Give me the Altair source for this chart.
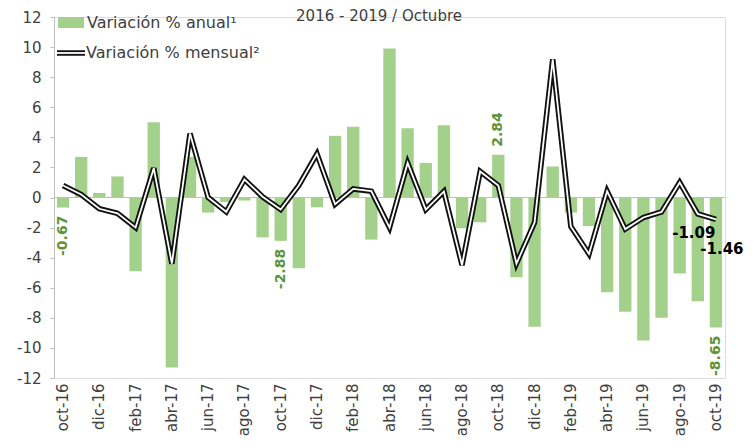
import altair as alt
import pandas as pd

months = ["oct-16", "nov-16", "dic-16", "ene-17", "feb-17", "mar-17", "abr-17", "may-17",
          "jun-17", "jul-17", "ago-17", "sep-17", "oct-17", "nov-17", "dic-17", "ene-18",
          "feb-18", "mar-18", "abr-18", "may-18", "jun-18", "jul-18", "ago-18", "sep-18",
          "oct-18", "nov-18", "dic-18", "ene-19", "feb-19", "mar-19", "abr-19", "may-19",
          "jun-19", "jul-19", "ago-19", "sep-19", "oct-19"]

anual = [-0.67, 2.7, 0.3, 1.4, -4.9, 5.0, -11.3, 2.7, -1.0, -0.3, -0.2, -2.65, -2.88,
         -4.7, -0.65, 4.1, 4.7, -2.8, 9.9, 4.6, 2.3, 4.8, -2.05, -1.65, 2.84, -5.3, -8.6,
         2.06, -1.0, -1.9, -6.3, -7.6, -9.5, -8.0, -5.05, -6.9, -8.65]

mensual = [0.8, 0.2, -0.75, -1.05, -2.0, 1.95, -4.4, 4.25, 0.0, -0.95, 1.2, 0.05, -0.8,
           0.8, 2.9, -0.45, 0.57, 0.42, -2.0, 2.3, -0.8, 0.4, -4.5, 1.73, 0.8, -4.4, -1.66,
           9.18, -1.93, -3.75, 0.42, -2.1, -1.33, -0.96, 1.0, -1.09, -1.46]

tick_labels = months[::2]
y_ticks = list(range(-12, 13, 2))

label_neg_months = ["oct-16", "oct-17", "oct-19"]
label_pos_months = ["oct-18"]

legend_items = ["Variación % anual\u00b9", "Variación % mensual\u00b2"]
title_text = "2016 - 2019 / Octubre"

FONT = "DejaVu Sans"
GREEN = "#a3d18c"
LABEL_GREEN = "#5e9438"

df = pd.DataFrame({"mes": months, "anual": anual, "mensual": mensual})
df["anual_lbl"] = df["anual"].map(lambda v: f"{v:.2f}")
df["mens_lbl"] = df["mensual"].map(lambda v: f"{v:.2f}")

xenc = alt.X("mes:N", sort=months, title=None,
             scale=alt.Scale(paddingInner=0.32, paddingOuter=0.16),
             axis=alt.Axis(values=tick_labels, labelAngle=-90, domain=False, ticks=False,
                           labelFont=FONT, labelFontSize=15, labelColor="#404040",
                           labelPadding=5, labelBaseline="middle", labelAlign="right"))
yscale = alt.Scale(domain=[-12, 12], nice=False)
yaxis = alt.Axis(values=y_ticks, grid=False, domainColor="#bfbfbf", tickColor="#bfbfbf",
                 tickSize=4, labelFont=FONT, labelFontSize=15, labelColor="#404040",
                 labelPadding=9, title=None, labelOverlap=False,
                 labelExpr="datum.value + ''")


def Y(field):
    return alt.Y(field, scale=yscale, axis=yaxis)


base = alt.Chart(df).encode(x=xenc)

bars = base.mark_bar(color=GREEN).encode(y=Y("anual:Q"))

zero = alt.Chart(df).mark_rule(color="#bfbfbf", strokeWidth=1.2).encode(
    y=alt.Y(datum=0, scale=yscale, axis=yaxis))

line_outer = base.mark_line(color="#111111", strokeWidth=5.5, strokeJoin="miter").encode(
    y=Y("mensual:Q"))
line_inner = base.mark_line(color="white", strokeWidth=1.8, strokeJoin="miter").encode(
    y=Y("mensual:Q"))

neg_lbl = base.transform_filter(alt.FieldOneOfPredicate(field="mes", oneOf=label_neg_months)).mark_text(
    angle=270, align="right", baseline="middle", dx=-8, font=FONT, fontSize=14,
    fontWeight="bold", color=LABEL_GREEN).encode(y=Y("anual:Q"), text="anual_lbl:N")

pos_lbl = base.transform_filter(alt.FieldOneOfPredicate(field="mes", oneOf=label_pos_months)).mark_text(
    angle=270, align="left", baseline="middle", dx=8, font=FONT, fontSize=14,
    fontWeight="bold", color=LABEL_GREEN).encode(y=Y("anual:Q"), text="anual_lbl:N")

sep_lbl = base.transform_filter(alt.datum.mes == "sep-19").mark_text(
    align="center", baseline="middle", dx=-4, dy=19, font=FONT, fontSize=15,
    fontWeight="bold", color="black").encode(y=Y("mensual:Q"), text="mens_lbl:N")

oct_lbl = base.transform_filter(alt.datum.mes == "oct-19").mark_text(
    align="center", baseline="middle", dx=6, dy=30, font=FONT, fontSize=15,
    fontWeight="bold", color="black").encode(y=Y("mensual:Q"), text="mens_lbl:N")

leg_df = pd.DataFrame({"item": legend_items})
leg_rect = alt.Chart(leg_df).transform_filter(alt.datum.item == legend_items[0]).mark_rect(
    color=GREEN).encode(x=alt.value(4), x2=alt.value(30), y=alt.value(0), y2=alt.value(11))
leg_line_o = alt.Chart(leg_df).transform_filter(alt.datum.item == legend_items[1]).mark_rule(
    color="#111111", strokeWidth=5.5).encode(x=alt.value(3), x2=alt.value(31), y=alt.value(36))
leg_line_i = alt.Chart(leg_df).transform_filter(alt.datum.item == legend_items[1]).mark_rule(
    color="white", strokeWidth=1.8).encode(x=alt.value(3), x2=alt.value(31), y=alt.value(36))
leg_t1 = alt.Chart(leg_df).transform_filter(alt.datum.item == legend_items[0]).mark_text(
    align="left", baseline="middle", font=FONT, fontSize=16, color="#404040").encode(
    x=alt.value(33), y=alt.value(6), text="item:N")
leg_t2 = alt.Chart(leg_df).transform_filter(alt.datum.item == legend_items[1]).mark_text(
    align="left", baseline="middle", font=FONT, fontSize=16, color="#404040").encode(
    x=alt.value(32), y=alt.value(36), text="item:N")

title_df = pd.DataFrame({"t": [title_text]})
title = alt.Chart(title_df).mark_text(
    align="center", baseline="middle", font=FONT, fontSize=15, color="#404040").encode(
    x=alt.value(325), y=alt.value(-1), text="t:N")

chart = alt.layer(bars, zero, line_outer, line_inner, neg_lbl, pos_lbl, sep_lbl, oct_lbl,
                  leg_rect, leg_line_o, leg_line_i, leg_t1, leg_t2, title).properties(
    width=671, height=361,
    autosize=alt.AutoSizeParams(type="none"),
    padding={"left": 46, "top": 9, "right": 20, "bottom": 60},
).configure_view(stroke=None).configure(background="white")

chart.save("out.html", embed_options={"renderer": "svg", "actions": False})
